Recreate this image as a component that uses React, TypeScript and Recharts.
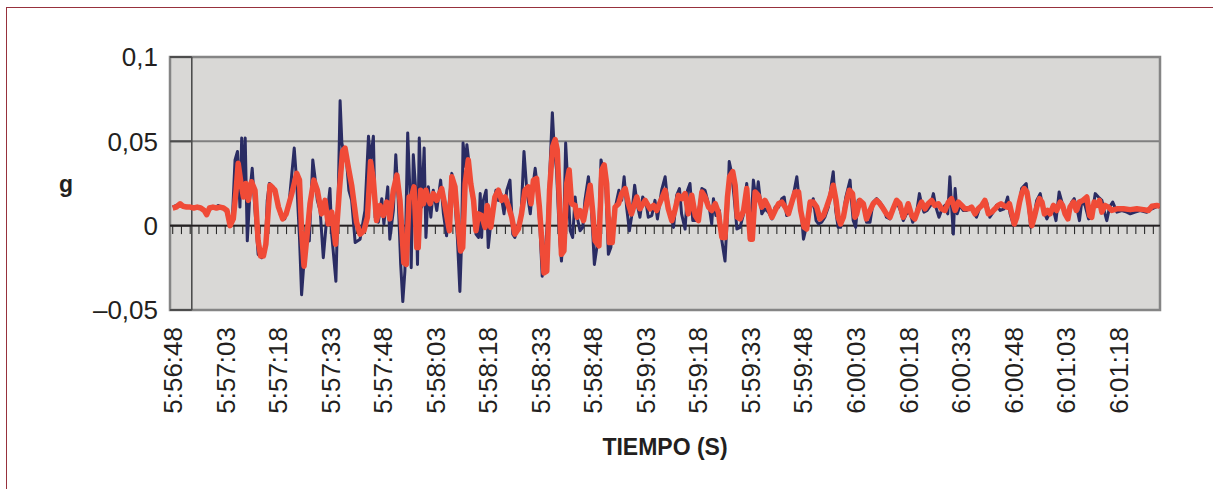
import React from "react";
import {
  LineChart,
  Line,
  XAxis,
  YAxis,
  CartesianGrid,
  ReferenceLine,
  ReferenceArea,
} from "recharts";

// seconds after 5:56:48, value in g
const navySeries: [number, number][] = [
  [0, 0.011], [1, 0.012], [2, 0.0125], [3, 0.011], [4, 0.0115], [5, 0.011], [6, 0.0105], [7, 0.011], [8, 0.0105], [9, 0.0095],
  [10, 0.008], [11, 0.0105], [12, 0.0105], [13, 0.012], [14, 0.0105], [15, 0.01], [16.6, 0.0], [17.1, 0.007], [17.8, 0.039], [18.5, 0.044],
  [19.2, 0.011], [19.7, 0.052], [20.2, 0.021], [20.7, 0.052], [21.3, -0.009], [22.1, 0.021], [22.7, 0.034], [23.5, 0.009], [24.4, -0.017], [25.4, -0.019],
  [26.4, -0.015], [27, 0.015], [27.6, 0.025], [28.7, 0.023], [29.7, 0.015], [30.8, 0.006], [32, 0.004], [33.3, 0.015], [34.7, 0.046], [35.4, 0.026],
  [36.2, -0.007], [36.8, -0.041], [37.5, -0.021], [38.3, -0.007], [39, -0.009], [40, 0.039], [40.6, 0.029], [41.3, 0.015], [42.1, 0.009], [43, -0.019],
  [44, 0.005], [44.9, 0.022], [45.4, -0.005], [46.6, -0.033], [47.3, 0.021], [47.8, 0.074], [48.3, 0.049], [48.9, 0.043], [49.7, 0.037], [50.3, 0.021],
  [51.1, 0.015], [52.1, -0.01], [53.5, -0.008], [54.9, 0.009], [55.9, 0.053], [56.5, 0.039], [57.3, 0.053], [57.8, 0.005], [58.7, 0.002], [59.7, 0.016],
  [60.3, 0.001], [61.4, 0.023], [62, -0.008], [63, 0.009], [63.7, 0.042], [64.4, 0.015], [65.1, -0.023], [65.7, -0.045], [66.3, -0.027], [67.1, 0.055],
  [67.8, 0.017], [68.1, -0.025], [68.7, 0.042], [69.4, 0.021], [69.9, -0.023], [70.4, 0.052], [71.1, 0.011], [71.8, 0.046], [72.3, -0.007], [73, 0.023],
  [73.7, 0.005], [74.4, 0.021], [75.4, 0.009], [76.5, 0.027], [77.3, 0.007], [78.2, -0.006], [79, 0.015], [79.7, 0.031], [80.6, 0.015], [81.3, -0.008],
  [82, -0.039], [82.5, -0.009], [82.9, 0.049], [83.6, 0.035], [84, 0.048], [84.6, 0.037], [85.2, 0.021], [85.8, 0.015], [86.6, -0.005], [87.3, -0.007],
  [87.8, 0.019], [88.2, -0.007], [88.7, 0.015], [89.5, 0.021], [90.1, -0.013], [90.8, 0.001], [91.6, 0.013], [92.3, 0.021], [93, 0.015], [93.7, 0.019],
  [94.6, 0.007], [95.4, 0.021], [96.3, 0.027], [97.1, -0.005], [97.7, -0.007], [98.7, 0.001], [99.4, 0.003], [100.3, 0.044], [101.1, 0.021], [102.1, 0.007],
  [102.7, 0.021], [103.5, 0.034], [104.2, 0.021], [104.9, -0.003], [105.5, -0.03], [106.3, -0.017], [107.1, 0.005], [107.7, 0.033], [108.4, 0.067], [108.9, 0.047],
  [109.6, 0.033], [110.4, -0.005], [111, -0.021], [111.7, 0.001], [112.2, 0.049], [112.8, 0.025], [113.5, -0.003], [114.2, -0.007], [114.9, 0.017], [115.5, 0.005],
  [116.3, -0.003], [117.1, -0.001], [117.7, 0.015], [118.7, 0.029], [119.4, 0.015], [119.9, -0.003], [120.4, -0.023], [121.1, -0.013], [121.7, 0.001], [122.3, 0.039],
  [122.9, 0.033], [123.7, 0.021], [124.4, -0.017], [125.1, -0.013], [125.8, 0.005], [126.8, 0.015], [127.4, 0.021], [128.2, 0.015], [128.9, 0.029], [129.6, 0.011],
  [130.4, -0.003], [131, 0.005], [131.9, 0.024], [132.6, 0.013], [133.4, 0.005], [134.2, 0.017], [135.2, 0.013], [135.8, 0.005], [136.8, 0.006], [137.7, 0.015],
  [138.4, 0.004], [139.6, 0.021], [140.6, 0.029], [141.5, 0.011], [143, -0.001], [143.9, 0.018], [144.7, 0.022], [145.3, 0.007], [146.3, -0.002], [147, 0.021],
  [147.7, 0.025], [148.5, 0.003], [149.6, 0.003], [150.4, 0.012], [151.1, 0.022], [152, 0.021], [153.2, 0.011], [153.9, 0.001], [154.4, 0.016], [155.1, 0.006],
  [156.1, 0.009], [156.8, -0.009], [157.7, -0.021], [158.4, 0.007], [158.9, 0.038], [159.6, 0.031], [160.3, 0.017], [161.1, -0.002], [162, -0.001], [163, 0.007],
  [163.9, 0.025], [164.9, -0.007], [165.8, 0.027], [166.6, 0.015], [167.2, 0.026], [168.2, 0.007], [169.1, 0.01], [170.1, 0.008], [171.1, 0.004], [172, 0.011],
  [173, 0.011], [173.9, 0.016], [174.6, 0.017], [175.3, 0.006], [176.3, 0.009], [177.2, 0.018], [178.2, 0.029], [178.9, 0.015], [179.6, 0.005], [180.1, -0.008],
  [181, 0.0], [182, 0.009], [182.9, 0.016], [183.7, 0.003], [184.4, 0.001], [185.3, 0.002], [186.2, 0.005], [187.2, 0.011], [188.1, 0.025], [188.6, 0.032],
  [189.3, 0.009], [190, -0.001], [190.7, -0.001], [191.5, 0.007], [192.2, 0.017], [193.4, 0.027], [193.8, 0.015], [194.3, 0.003], [195, -0.001], [195.7, 0.015],
  [196.7, 0.014], [197.5, 0.009], [198.1, 0.002], [199.1, 0.002], [200, 0.014], [201, 0.016], [201.9, 0.014], [202.9, 0.011], [203.8, 0.005], [204.8, 0.004],
  [205.7, 0.01], [206.7, 0.014], [207.6, 0.01], [208.6, 0.003], [209.5, 0.007], [210.5, 0.008], [211.3, 0.002], [212.2, 0.005], [213.2, 0.019], [213.8, 0.013],
  [214.5, 0.008], [215.4, 0.009], [216.4, 0.012], [217.2, 0.019], [217.9, 0.011], [218.8, 0.005], [219.5, 0.009], [220.5, 0.012], [221.3, 0.007], [221.9, 0.029],
  [222.4, 0.011], [222.9, -0.005], [223.4, 0.022], [224, 0.007], [224.8, 0.012], [225.7, 0.009], [226.7, 0.009], [227.6, 0.011], [228.6, 0.008], [229.5, 0.005],
  [230.5, 0.011], [231.4, 0.012], [232.4, 0.014], [233.3, 0.005], [234.3, 0.008], [235.2, 0.012], [236.3, 0.009], [237.4, 0.01], [238.4, 0.017], [239.1, 0.007],
  [240.1, 0.0], [241, 0.005], [242.4, 0.022], [243.7, 0.025], [244.6, 0.007], [245, -0.001], [245.8, 0.004], [246.7, 0.015], [247.7, 0.019], [248.6, 0.009],
  [249.6, 0.004], [250.5, 0.008], [251.3, 0.011], [252.2, 0.003], [253.1, 0.02], [253.9, 0.014], [254.8, 0.007], [255.8, 0.008], [256.7, 0.014], [257.4, 0.016],
  [258.2, 0.01], [258.9, 0.003], [259.6, 0.015], [260.5, 0.012], [261.5, 0.004], [262.4, 0.005], [263.4, 0.019], [264.3, 0.017], [265.3, 0.015], [266.2, 0.007],
  [266.7, 0.003], [267.5, 0.011], [268.4, 0.014], [269.6, 0.008], [271, 0.009], [272.4, 0.008], [273.4, 0.007], [274.8, 0.008], [276.2, 0.009], [278.1, 0.008],
  [279.6, 0.01], [281, 0.0113], [281.9, 0.0115],
];

const redSeries: [number, number][] = [
  [0, 0.0105], [1, 0.011], [2.1, 0.013], [3, 0.0115], [4, 0.011], [5, 0.011], [6, 0.0105], [7, 0.011], [8, 0.0105], [9, 0.009],
  [9.7, 0.0065], [10.5, 0.0105], [11.5, 0.011], [12.5, 0.0105], [13.5, 0.011], [14.5, 0.0105], [15.5, 0.009], [16.4, 0.0], [17.3, 0.004], [18.1, 0.021],
  [18.7, 0.037], [19.5, 0.025], [20.2, 0.017], [20.9, 0.025], [21.6, 0.015], [22.5, 0.026], [23.5, 0.021], [24.4, -0.009], [25.1, -0.018], [25.9, -0.018],
  [26.6, -0.011], [27.8, 0.024], [29.2, 0.021], [30.2, 0.011], [31.4, 0.004], [32.4, 0.007], [34, 0.019], [35.4, 0.031], [36.2, 0.027], [36.8, -0.003],
  [37.5, -0.024], [38.3, -0.007], [39.2, 0.013], [40.3, 0.027], [41.3, 0.021], [42.5, 0.007], [43.5, 0.015], [44.4, 0.001], [45.4, 0.008], [46.5, -0.011],
  [47.6, 0.021], [48.5, 0.044], [49.2, 0.046], [50.2, 0.034], [51.1, 0.024], [52.5, 0.002], [53.5, -0.005], [54.6, -0.003], [55.6, 0.005], [56.5, 0.038],
  [57.3, 0.027], [58.2, 0.003], [59.2, 0.012], [60.1, 0.006], [61.1, 0.014], [62, 0.004], [63, 0.021], [64, 0.03], [64.9, 0.015], [66, -0.022],
  [66.7, -0.023], [67.5, 0.017], [68.2, 0.017], [68.9, 0.023], [69.7, -0.013], [70.1, -0.013], [70.8, 0.021], [71.6, 0.013], [72.3, 0.021], [73.5, 0.013],
  [74.4, 0.019], [75.4, 0.015], [76.8, 0.022], [77.8, 0.011], [79, -0.003], [79.7, 0.029], [80.6, 0.023], [81.6, -0.003], [82.2, -0.015], [82.8, -0.013],
  [83.5, 0.025], [84.4, 0.039], [85.1, 0.025], [85.9, 0.015], [86.6, -0.003], [87.3, 0.007], [88.2, 0.006], [89.2, -0.001], [89.8, 0.012], [90.8, -0.001],
  [92, 0.017], [93, 0.021], [93.9, 0.015], [94.9, 0.017], [95.8, 0.012], [96.8, 0.005], [97.7, -0.005], [98.7, -0.002], [99.6, 0.007], [100.6, 0.021],
  [101.5, 0.023], [102.3, 0.013], [103, 0.027], [103.9, 0.028], [104.7, 0.011], [105.4, -0.009], [106, -0.028], [106.8, -0.027], [107.6, 0.021], [108.5, 0.047],
  [109.2, 0.051], [109.8, 0.045], [110.4, 0.015], [111, -0.017], [111.7, -0.015], [112.5, 0.025], [113.2, 0.033], [113.9, 0.013], [114.9, 0.012], [115.5, 0.005],
  [116.3, 0.009], [117.3, 0.003], [118.2, 0.013], [119.2, 0.024], [119.9, 0.009], [120.6, -0.009], [121.7, -0.012], [122.5, 0.033], [123.2, 0.036], [123.9, 0.025],
  [124.7, -0.01], [125.5, -0.01], [126.3, 0.011], [127.3, 0.013], [128.2, 0.019], [129.2, 0.022], [130.1, 0.013], [131, 0.007], [132.5, 0.017], [133.4, 0.01],
  [134.9, 0.015], [136.3, 0.01], [137.3, 0.012], [138.2, 0.009], [139.2, 0.014], [140.6, 0.021], [141.5, 0.01], [142.5, 0.003], [143.4, 0.009], [144.4, 0.018],
  [145.3, 0.016], [146.3, 0.019], [147.2, 0.007], [148.2, 0.018], [149.2, 0.006], [150.1, 0.003], [151.1, 0.02], [152, 0.017], [153, 0.011], [153.9, 0.009],
  [154.9, 0.013], [155.8, 0.008], [156.8, -0.007], [157.7, -0.007], [158.4, 0.017], [159, 0.029], [159.9, 0.032], [160.6, 0.024], [161.2, 0.005], [162, 0.004],
  [163, 0.009], [163.9, 0.022], [164.9, -0.008], [165.5, -0.008], [166.3, 0.02], [167.2, 0.018], [168.2, 0.011], [169.1, 0.015], [170.1, 0.011], [171.1, 0.005],
  [172, 0.009], [173, 0.013], [173.9, 0.014], [174.9, 0.011], [175.8, 0.007], [176.8, 0.014], [177.7, 0.02], [178.7, 0.02], [179.3, 0.009], [180.3, -0.001],
  [181, -0.002], [182, 0.014], [182.9, 0.014], [183.9, 0.011], [184.8, 0.004], [185.8, 0.006], [186.7, 0.011], [187.7, 0.017], [188.6, 0.024], [189.4, 0.015],
  [190, 0.005], [190.7, 0.001], [191.5, 0.005], [192.2, 0.013], [193.2, 0.021], [194.1, 0.019], [194.8, 0.005], [195.3, 0.007], [196.2, 0.015], [197.2, 0.013],
  [198.1, 0.004], [199.1, 0.009], [200, 0.013], [201, 0.015], [201.9, 0.013], [202.9, 0.01], [203.8, 0.007], [204.8, 0.005], [205.7, 0.01], [206.7, 0.015],
  [207.6, 0.013], [208.6, 0.005], [209.4, 0.009], [210, 0.013], [211, 0.006], [211.9, 0.004], [212.9, 0.01], [213.8, 0.014], [214.8, 0.01], [215.7, 0.013],
  [216.7, 0.015], [217.6, 0.012], [218.6, 0.013], [219.5, 0.01], [220.5, 0.009], [221.5, 0.014], [222.4, 0.016], [223.4, 0.009], [224.3, 0.014], [225.3, 0.012],
  [226.2, 0.01], [227.2, 0.01], [228.1, 0.011], [229.1, 0.007], [230, 0.01], [231, 0.012], [231.9, 0.015], [232.9, 0.007], [233.8, 0.008], [234.8, 0.01],
  [235.7, 0.012], [236.5, 0.013], [237.2, 0.012], [238.2, 0.011], [238.9, 0.013], [239.6, 0.007], [240.3, 0.001], [241, 0.005], [241.8, 0.014], [242.4, 0.019],
  [243.1, 0.022], [243.9, 0.02], [244.6, 0.011], [245.3, 0.0], [246, 0.005], [246.7, 0.011], [247.5, 0.016], [248.2, 0.014], [248.9, 0.007], [249.8, 0.009],
  [250.5, 0.007], [251.5, 0.012], [252.4, 0.009], [253.4, 0.014], [254.1, 0.012], [254.8, 0.007], [255.6, 0.004], [256.2, 0.011], [257.2, 0.014], [258, 0.009],
  [258.9, 0.014], [259.9, 0.015], [261, 0.017], [261.8, 0.006], [262.4, 0.005], [263.1, 0.014], [263.9, 0.012], [264.6, 0.015], [265.3, 0.008], [266.2, 0.012],
  [267.2, 0.011], [268.1, 0.009], [269.6, 0.01], [271.5, 0.01], [273.4, 0.0095], [275.3, 0.01], [277.2, 0.0095], [278.6, 0.009], [279.6, 0.0115], [281, 0.012],
  [281.9, 0.0115],
];

const timeTicks = [0, 15, 30, 45, 60, 75, 90, 105, 120, 135, 150, 165, 180, 195, 210, 225, 240, 255, 270];
const valueTicks = [-0.05, 0, 0.05, 0.1];
const START_SECONDS = 5 * 3600 + 56 * 60 + 48;
const X_DOMAIN: [number, number] = [-0.77, 281.9];
const Y_DOMAIN: [number, number] = [-0.05, 0.1];
const MINOR_STEP = 2.5;
const MINOR_TICK_LEN = 0.005;
const Y_AXIS_CROSS = 5.45;

const minorTicks = Array.from({ length: Math.floor(280 / MINOR_STEP) + 1 }, (_, i) => i * MINOR_STEP);

const navyData = navySeries.map(([t, g]) => ({ t, g }));
const redData = redSeries.map(([t, g]) => ({ t, g }));

const FONT = '"Liberation Sans", Arial, Helvetica, sans-serif';
const TEXT = "#231f20";

function fmtTime(sec: number) {
  const total = START_SECONDS + sec;
  const h = Math.floor(total / 3600);
  const m = Math.floor((total % 3600) / 60);
  const s = Math.round(total % 60);
  return `${h}:${String(m).padStart(2, "0")}:${String(s).padStart(2, "0")}`;
}

function fmtG(v: number) {
  if (Math.abs(v) < 1e-9) return "0";
  const s = String(Math.abs(v)).replace(".", ",");
  return (v < 0 ? "\u2013" : "") + s;
}

const TimeTick = (props: any) => {
  const { x, y, payload } = props;
  return (
    <text
      x={x}
      y={y}
      transform={`rotate(-90, ${x}, ${y})`}
      textAnchor="end"
      dy="0.36em"
      fontSize={26}
      fontFamily={FONT}
      fill={TEXT}
    >
      {fmtTime(payload.value)}
    </text>
  );
};

export default function App() {
  return (
    <div
      style={{
        position: "absolute",
        left: 0,
        top: 0,
        width: 1213,
        height: 489,
        background: "#ffffff",
        overflow: "hidden",
      }}
    >
      <div
        style={{
          position: "absolute",
          left: 6,
          top: 7,
          width: 1400,
          height: 700,
          borderLeft: "1.5px solid #97313d",
          borderTop: "1.5px solid #97313d",
        }}
      />
      <div style={{ position: "absolute", left: 0, top: 0 }}>
        <LineChart
          width={1213}
          height={489}
          margin={{ top: 57, right: 53, bottom: 0, left: 0 }}
        >
          <CartesianGrid
            horizontal
            vertical={false}
            stroke="#7f7f7f"
            strokeWidth={2}
            fill="#d9d8d6"
            fillOpacity={1}
          />
          <XAxis
            type="number"
            dataKey="t"
            domain={X_DOMAIN}
            ticks={timeTicks}
            allowDataOverflow
            interval={0}
            height={179}
            tickSize={0}
            tickMargin={17}
            axisLine={false}
            tickLine={false}
            tick={<TimeTick />}
            label={{
              content: (p: any) => {
                const vb = p.viewBox || { x: 170, y: 310, width: 990 };
                return (
                  <text
                    x={vb.x + vb.width / 2}
                    y={vb.y + 144.5}
                    textAnchor="middle"
                    fontSize={23}
                    fontWeight="bold"
                    fontFamily={FONT}
                    fill={TEXT}
                  >
                    TIEMPO (S)
                  </text>
                );
              },
            }}
          />
          <YAxis
            type="number"
            domain={Y_DOMAIN}
            ticks={valueTicks}
            allowDataOverflow
            interval={0}
            width={170}
            tickSize={0}
            tickMargin={12}
            axisLine={false}
            tickLine={false}
            tickFormatter={fmtG}
            tick={{ fontSize: 26, fontFamily: FONT, fill: TEXT }}
            label={{
              content: (p: any) => {
                const vb = p.viewBox || { x: 0, y: 57, width: 170 };
                return (
                  <text
                    x={vb.x + 66}
                    y={vb.y + 135}
                    textAnchor="middle"
                    fontSize={23}
                    fontWeight="bold"
                    fontFamily={FONT}
                    fill={TEXT}
                  >
                    g
                  </text>
                );
              },
            }}
          />
          <ReferenceLine
            x={Y_AXIS_CROSS}
            stroke="#4d4d4d"
            strokeWidth={1.6}
            ifOverflow="visible"
          />
          {valueTicks.map((v) => (
            <ReferenceLine
              key={`yt${v}`}
              segment={[
                { x: X_DOMAIN[0], y: v },
                { x: Y_AXIS_CROSS, y: v },
              ]}
              stroke="#4d4d4d"
              strokeWidth={2}
              ifOverflow="visible"
            />
          ))}
          <ReferenceLine y={0} stroke="#231f20" strokeWidth={1.6} />
          {minorTicks.map((t) => (
            <ReferenceLine
              key={`mt${t}`}
              segment={[
                { x: t, y: 0 },
                { x: t, y: -MINOR_TICK_LEN },
              ]}
              stroke="#2b2b2b"
              strokeWidth={1.1}
              ifOverflow="visible"
            />
          ))}
          <ReferenceArea
            x1={X_DOMAIN[0]}
            x2={X_DOMAIN[1]}
            y1={Y_DOMAIN[0]}
            y2={Y_DOMAIN[1]}
            fill="none"
            fillOpacity={0}
            stroke="#858585"
            strokeWidth={2.5}
            ifOverflow="visible"
          />
          <Line
            data={navyData}
            dataKey="g"
            type="linear"
            stroke="#2a2c63"
            strokeWidth={3}
            dot={false}
            activeDot={false}
            strokeLinejoin="round"
            isAnimationActive={false}
          />
          <Line
            data={redData}
            dataKey="g"
            type="linear"
            stroke="#f04b37"
            strokeWidth={5.5}
            dot={false}
            activeDot={false}
            strokeLinejoin="round"
            isAnimationActive={false}
          />
        </LineChart>
      </div>
    </div>
  );
}
